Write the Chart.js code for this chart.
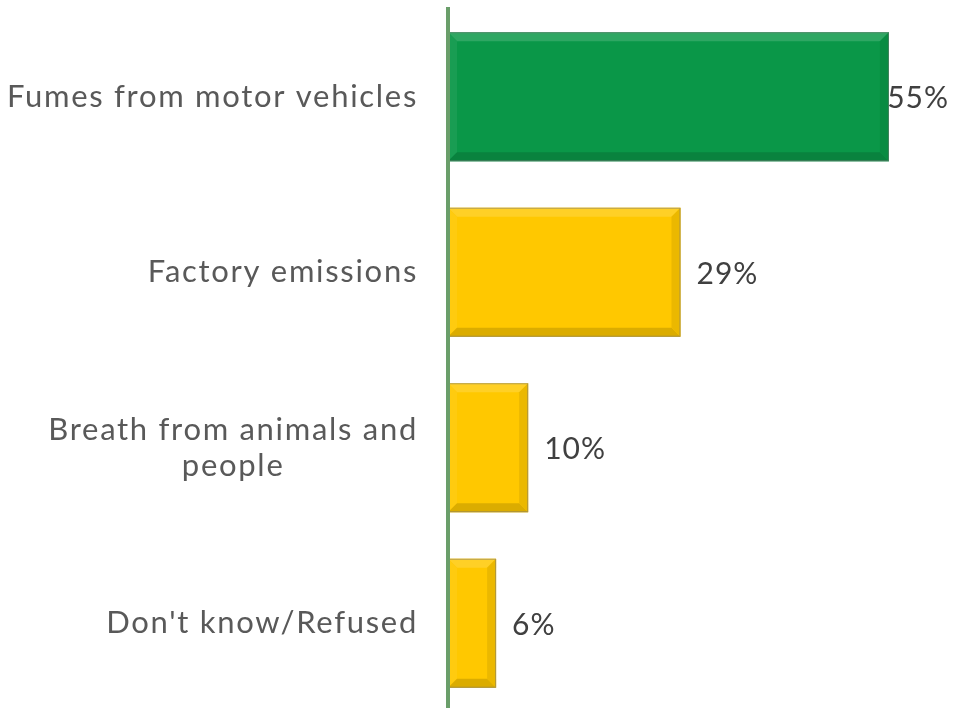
<!DOCTYPE html>
<html>
<head>
<meta charset="utf-8">
<script src="https://cdn.jsdelivr.net/npm/chart.js@4/dist/chart.umd.min.js"></script>
<style>
  html, body { margin: 0; padding: 0; background: #fff; overflow: hidden; }
  #wrap { width: 953px; height: 708px; overflow: hidden; }
</style>
</head>
<body>
<div id="wrap"><canvas id="myChart" width="953" height="712"></canvas></div>
<script>
/* DATA */
var categories = [
  ['Fumes from motor vehicles'],
  ['Factory emissions'],
  ['Breath from animals and', 'people'],
  ["Don't know/Refused"]
];
var shares = [55, 29, 10, 6];
var barColors = ['#0a9748', '#ffc800', '#ffc800', '#ffc800'];

var FONT = 'Lato, "Open Sans", sans-serif';

/* lighten / darken a hex colour */
function shade(hex, amt) {
  var n = parseInt(hex.slice(1), 16);
  var r = (n >> 16) & 255, g = (n >> 8) & 255, b = n & 255;
  function f(c) {
    return Math.max(0, Math.min(255, Math.round(amt > 0 ? c + (255 - c) * amt : c * (1 + amt))));
  }
  return 'rgb(' + f(r) + ',' + f(g) + ',' + f(b) + ')';
}

/* BEVELLED BARS */
var bevelPlugin = {
  id: 'bevel',
  afterDatasetsDraw: function(chart) {
    var ctx = chart.ctx;
    var meta = chart.getDatasetMeta(0);
    var b = 9;
    meta.data.forEach(function(bar, i) {
      var c = barColors[i];
      var x0 = bar.base, x1 = bar.x;
      var y0 = bar.y - bar.height / 2, y1 = bar.y + bar.height / 2;
      ctx.save();
      // top
      ctx.fillStyle = shade(c, 0.15);
      ctx.beginPath();
      ctx.moveTo(x0, y0); ctx.lineTo(x1, y0); ctx.lineTo(x1 - b, y0 + b); ctx.lineTo(x0 + b, y0 + b);
      ctx.fill();
      // left
      ctx.fillStyle = shade(c, 0.06);
      ctx.beginPath();
      ctx.moveTo(x0, y0); ctx.lineTo(x0 + b, y0 + b); ctx.lineTo(x0 + b, y1 - b); ctx.lineTo(x0, y1);
      ctx.fill();
      // bottom
      ctx.fillStyle = shade(c, -0.14);
      ctx.beginPath();
      ctx.moveTo(x0, y1); ctx.lineTo(x0 + b, y1 - b); ctx.lineTo(x1 - b, y1 - b); ctx.lineTo(x1, y1);
      ctx.fill();
      // right
      ctx.fillStyle = shade(c, -0.08);
      ctx.beginPath();
      ctx.moveTo(x1, y0); ctx.lineTo(x1, y1); ctx.lineTo(x1 - b, y1 - b); ctx.lineTo(x1 - b, y0 + b);
      ctx.fill();
      // outline
      ctx.strokeStyle = 'rgba(120,120,120,0.55)';
      ctx.lineWidth = 1;
      ctx.strokeRect(x0 + 0.5, y0 + 0.5, x1 - x0 - 1, y1 - y0 - 1);
      ctx.restore();
    });
  }
};

/* PERCENT LABELS AND CATEGORY LABELS */
var labelPlugin = {
  id: 'labels',
  afterDraw: function(chart) {
    var ctx = chart.ctx;
    var meta = chart.getDatasetMeta(0);
    var yScale = chart.scales.y;
    ctx.save();
    ctx.textBaseline = 'middle';

    // value labels
    ctx.font = '30px ' + FONT;
    ctx.letterSpacing = '1px';
    ctx.fillStyle = '#404040';
    ctx.textAlign = 'left';
    meta.data.forEach(function(bar, i) {
      var txt = shares[i] + '%';
      var w = ctx.measureText(txt).width;
      var x = Math.min(bar.x + 16, chart.width - w - 4);
      ctx.fillText(txt, x, bar.y + 2);
    });

    // category labels, centred on each other and right-aligned as a block
    ctx.font = '31px ' + FONT;
    ctx.letterSpacing = '1.7px';
    ctx.fillStyle = '#595959';
    ctx.textAlign = 'center';
    var right = 418, lineH = 36;
    categories.forEach(function(lines, i) {
      var cy = yScale.getPixelForValue(i);
      var widest = 0;
      lines.forEach(function(l) { widest = Math.max(widest, ctx.measureText(l).width); });
      var cx = right - widest / 2;
      var top = cy - (lines.length - 1) * lineH / 2;
      lines.forEach(function(l, k) {
        ctx.fillText(l, cx, top + k * lineH);
      });
    });
    ctx.restore();
  }
};

/* CREATE CHART */
var ctx = document.getElementById('myChart').getContext('2d');
var myChart = new Chart(ctx, {
  type: 'bar',
  data: {
    labels: categories,
    datasets: [{
      data: shares,
      backgroundColor: barColors,
      borderWidth: 0,
      barPercentage: 0.735,
      categoryPercentage: 1
    }]
  },
  options: {
    indexAxis: 'y',
    responsive: false,
    animation: false,
    layout: { padding: { top: 9, right: 24, bottom: 1, left: 0 } },
    plugins: { legend: { display: false }, tooltip: { enabled: false } },
    scales: {
      x: {
        min: 0, max: 60,
        display: false
      },
      y: {
        grid: { display: false },
        ticks: { display: false },
        border: { display: true, color: '#6a9e6a', width: 4, z: 1 },
        afterFit: function(scale) { scale.width = 448; }
      }
    }
  },
  plugins: [bevelPlugin, labelPlugin]
});
</script>
</body>
</html>
